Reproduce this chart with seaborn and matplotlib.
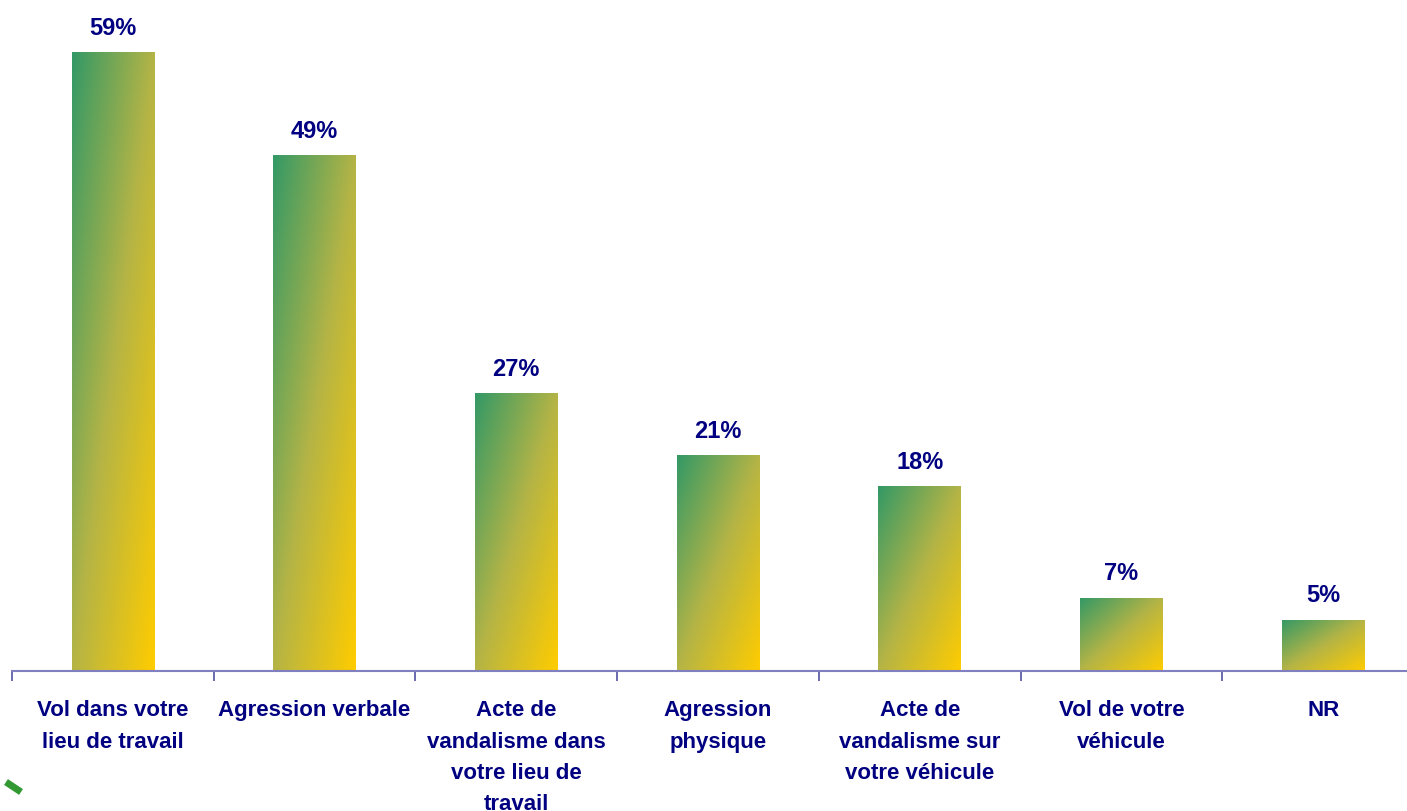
import pandas as pd
import numpy as np
import matplotlib
matplotlib.use('Agg')
import matplotlib.pyplot as plt
import seaborn as sns
from matplotlib.colors import LinearSegmentedColormap
from matplotlib.lines import Line2D

categories = ["Vol dans votre\nlieu de travail", "Agression verbale",
              "Acte de\nvandalisme dans\nvotre lieu de\ntravail", "Agression\nphysique",
              "Acte de\nvandalisme sur\nvotre véhicule", "Vol de votre\nvéhicule", "NR"]
# bar heights (labels are the rounded figures)
values = [59.0, 49.2, 26.5, 20.6, 17.6, 7.0, 4.9]
value_labels = ["59%", "49%", "27%", "21%", "18%", "7%", "5%"]

sns.set_style("white")
plt.rcParams['font.family'] = ['Liberation Sans', 'DejaVu Sans']

navy = '#000080'
grad = LinearSegmentedColormap.from_list('grad', ['#339966', '#b4b446', '#ffcc00'])

df = pd.DataFrame({'cat': categories, 'val': values})

fig = plt.figure(figsize=(14.07, 8.11), dpi=100)
ax = fig.add_axes([12 / 1407, 140 / 811, 1412 / 1407, 671 / 811])
sns.barplot(data=df, x='cat', y='val', width=0.41, color='#99b233', ax=ax)
ax.set_ylim(0, 64)
ax.set_xlim(-0.5, 6.5)

# diagonal gradient inside each bar: green top-left -> yellow bottom-right
n = 200
u = np.linspace(0, 1, n)
uu, vv = np.meshgrid(u, u)
tt = (uu + vv) / 2
for p in ax.patches:
    x0, w, h = p.get_x(), p.get_width(), p.get_height()
    p.set_facecolor('none')
    p.set_edgecolor('none')
    im = ax.imshow(tt, cmap=grad, vmin=0, vmax=1, extent=(x0, x0 + w, 0, h),
                   origin='upper', aspect='auto', interpolation='bilinear', zorder=2)
    im.set_clip_path(p)

for i, (v, lab) in enumerate(zip(values, value_labels)):
    ax.annotate(lab, (i, v), xytext=(0, 9), textcoords='offset points',
                ha='center', va='bottom', fontsize=17, fontweight='bold', color=navy)

# axis styling
for s in ['left', 'top', 'right']:
    ax.spines[s].set_visible(False)
ax.spines['bottom'].set_color('#8080c0')
ax.spines['bottom'].set_linewidth(1.5)
ax.spines['bottom'].set_zorder(3)
ax.set_yticks([])
ax.set_xticks(np.arange(-0.5, 7, 1))
ax.set_xticklabels([])
ax.tick_params(axis='x', which='major', bottom=True, length=7, width=1.2,
               color='#5050a0', direction='out')
ax.set_xticks(range(len(categories)), minor=True)
ax.set_xticklabels(categories, minor=True, fontsize=16, fontweight='bold',
                   color=navy, linespacing=1.65)
ax.tick_params(axis='x', which='minor', bottom=True, length=0, pad=21)
ax.set_xlabel('')
ax.set_ylabel('')

# small green mark in the bottom-left corner
fig.add_artist(Line2D([6 / 1407, 21 / 1407], [1 - 782 / 811, 1 - 792 / 811],
                      lw=5, color='#339933', solid_capstyle='butt'))

fig.savefig('out.png', dpi=100)
